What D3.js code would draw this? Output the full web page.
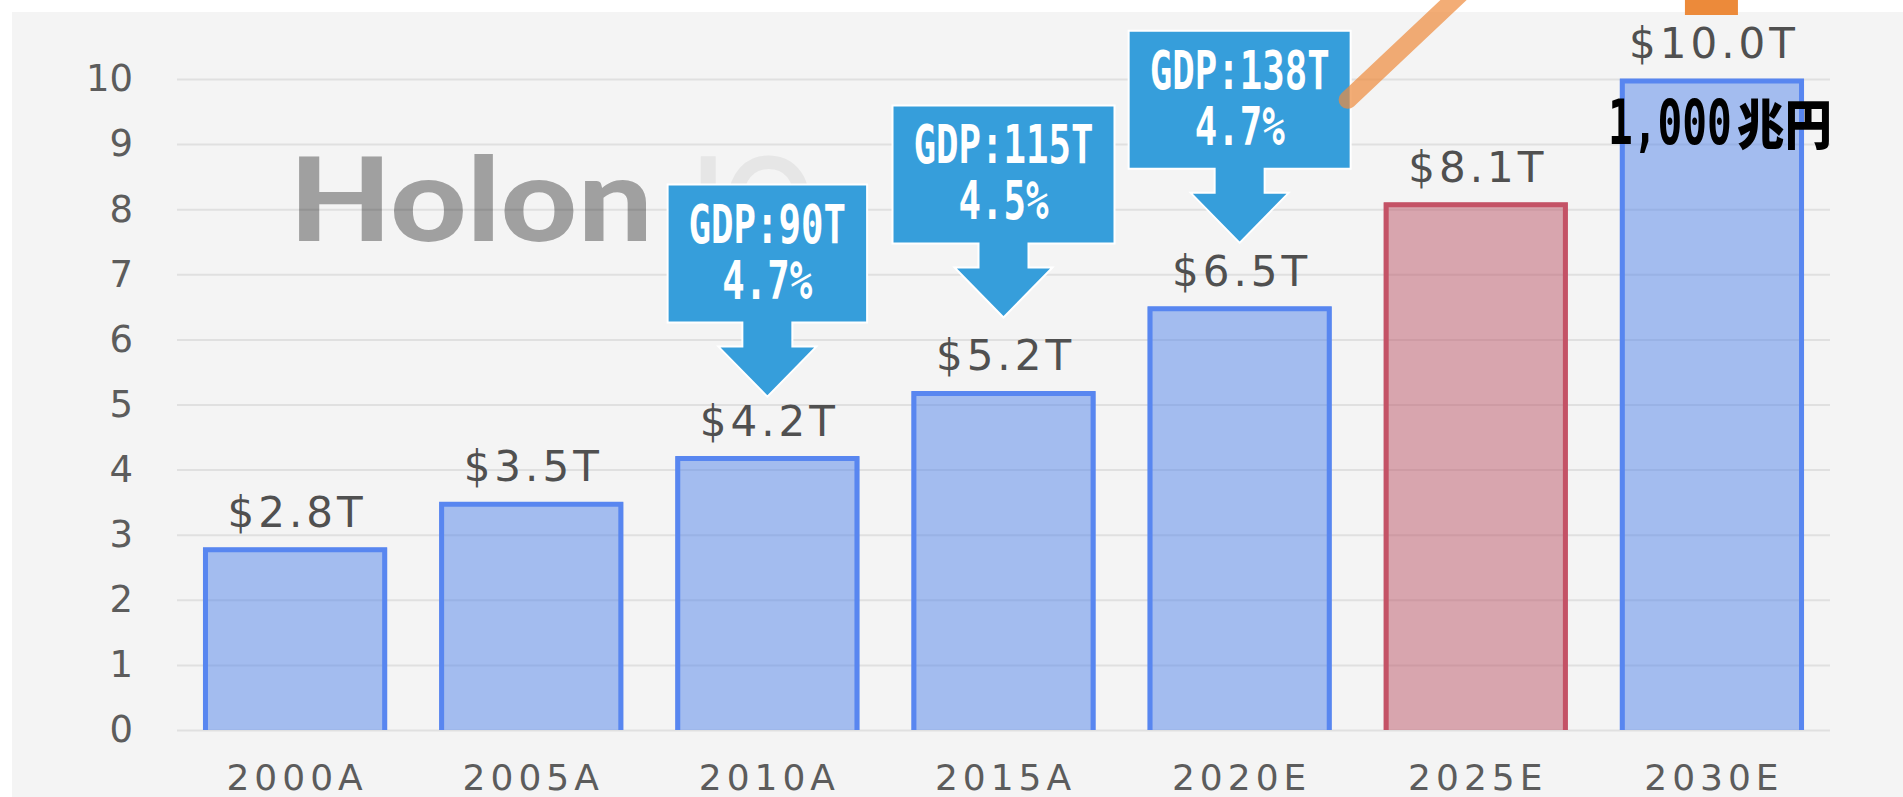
<!DOCTYPE html>
<html>
<head>
<meta charset="utf-8">
<script src="https://cdn.jsdelivr.net/npm/d3@7"></script>
<style>
  body { margin: 0; background: #ffffff; }
  svg { display: block; }
</style>
</head>
<body>
<div id="chart"></div>
<script>
const width = 1903;
const height = 797;

// chart data
const categories = ['2000A', '2005A', '2010A', '2015A', '2020E', '2025E', '2030E'];
const marketValues = [2.8, 3.5, 4.2, 5.2, 6.5, 8.1, 10.0];
const highlighted = ['2025E'];
const yTicks = [0, 1, 2, 3, 4, 5, 6, 7, 8, 9, 10];

// callouts
const calloutCats = ['2010A', '2015A', '2020E'];
const calloutGdp = ['GDP:90T', 'GDP:115T', 'GDP:138T'];
const calloutRate = ['4.7%', '4.5%', '4.7%'];
const yenNumber = '1,000';
const yenUnit = '兆円';

const labelFont = '"DejaVu Sans", "Open Sans", sans-serif';
const handFont = '"DejaVu Sans Mono", "Liberation Mono", monospace';

const svg = d3.select('#chart').append('svg')
    .attr('width', width)
    .attr('height', height);

// background panel
svg.append('rect')
    .attr('x', 12).attr('y', 12)
    .attr('width', width - 12).attr('height', height - 12)
    .attr('fill', '#f4f4f4');

// scales
const x = d3.scaleBand()
    .domain(categories)
    .range([177, 1830])
    .paddingInner(0.22)
    .paddingOuter(0.11);

const y = d3.scaleLinear()
    .domain([0, 10])
    .range([730, 79]);

// watermark
svg.append('text')
    .attr('x', 289).attr('y', 241)
    .attr('textLength', 364)
    .attr('lengthAdjust', 'spacingAndGlyphs')
    .style('font-family', 'Lato, "Open Sans", sans-serif')
    .style('font-weight', 900)
    .style('font-size', '117px')
    .attr('fill', '#a0a0a0')
    .text('Holon');

svg.append('text')
    .attr('x', 692).attr('y', 241)
    .attr('textLength', 121)
    .attr('lengthAdjust', 'spacingAndGlyphs')
    .style('font-family', 'Lato, "Open Sans", sans-serif')
    .style('font-weight', 700)
    .style('font-size', '117px')
    .attr('fill', '#e6e6e6')
    .text('IQ');

// gridlines
svg.append('g')
    .attr('transform', `translate(177,0)`)
    .call(d3.axisLeft(y).tickValues(yTicks).tickSize(-(1830 - 177)).tickFormat(''))
    .call(g => g.select('.domain').remove())
    .call(g => g.selectAll('line')
        .attr('stroke', '#000')
        .attr('stroke-opacity', 0.08)
        .attr('stroke-width', 2));

// y axis labels
svg.append('g')
    .attr('transform', `translate(177,0)`)
    .call(d3.axisLeft(y).tickValues(yTicks).tickSize(0).tickPadding(44).tickFormat(d3.format('d')))
    .call(g => g.select('.domain').remove())
    .call(g => g.selectAll('text')
        .style('font-family', labelFont)
        .style('font-size', '37px')
        .attr('fill', '#5c5c5c'));

// x axis labels
svg.append('g')
    .attr('transform', `translate(0,${y(0)})`)
    .call(d3.axisBottom(x).tickSize(0).tickPadding(34))
    .call(g => g.select('.domain').remove())
    .call(g => g.selectAll('text')
        .attr('dx', '2px')
        .style('font-family', labelFont)
        .style('font-size', '36px')
        .style('letter-spacing', '5px')
        .attr('fill', '#5c5c5c'));

const data = categories.map((c, i) => ({ cat: c, value: marketValues[i] }));
const isRed = d => highlighted.includes(d.cat);

// bars
const bars = svg.append('g');
bars.selectAll('rect')
    .data(data)
    .enter()
    .append('rect')
    .attr('x', d => x(d.cat))
    .attr('y', d => y(d.value))
    .attr('width', x.bandwidth())
    .attr('height', d => y(0) - y(d.value))
    .attr('fill', d => isRed(d) ? 'rgb(188,86,104)' : 'rgb(82,132,234)')
    .attr('fill-opacity', 0.5);

bars.selectAll('path')
    .data(data)
    .enter()
    .append('path')
    .attr('d', d => {
        const x0 = x(d.cat) + 2.5, x1 = x(d.cat) + x.bandwidth() - 2.5;
        const y0 = y(d.value) + 2, y1 = y(0);
        return `M${x0},${y1}L${x0},${y0}L${x1},${y0}L${x1},${y1}`;
    })
    .attr('fill', 'none')
    .attr('stroke', d => isRed(d) ? '#c45266' : '#5886f0')
    .attr('stroke-width', 5);

// value labels
svg.append('g').selectAll('text')
    .data(data)
    .enter()
    .append('text')
    .attr('x', d => x(d.cat) + x.bandwidth() / 2 + 2)
    .attr('y', d => y(d.value) - 21)
    .attr('text-anchor', 'middle')
    .style('font-family', labelFont)
    .style('font-size', '42px')
    .style('letter-spacing', '4px')
    .attr('fill', '#505050')
    .text(d => `$${d.value.toFixed(1)}T`);

// callout arrows
const calloutLift = [60, 74, 64];
const boxH = 138, shaftH = 24, headH = 50, shaftHalf = 25, headHalf = 49;
const callouts = calloutCats.map((c, i) => {
    const value = marketValues[categories.indexOf(c)];
    const cx = x(c) + x.bandwidth() / 2;
    const tip = y(value) - calloutLift[i];
    const top = tip - boxH - shaftH - headH;
    const w = Math.max(calloutGdp[i].length, calloutRate[i].length) * 22.5 + 42;
    return { cx, top, w, gdp: calloutGdp[i], rate: calloutRate[i] };
});

const calloutG = svg.append('g');
calloutG.selectAll('path')
    .data(callouts)
    .enter()
    .append('path')
    .attr('d', d => {
        const l = d.cx - d.w / 2, r = d.cx + d.w / 2;
        const b = d.top + boxH, s = b + shaftH, t = s + headH;
        return `M${l},${d.top}L${r},${d.top}L${r},${b}L${d.cx + shaftHalf},${b}` +
            `L${d.cx + shaftHalf},${s}L${d.cx + headHalf},${s}L${d.cx},${t}` +
            `L${d.cx - headHalf},${s}L${d.cx - shaftHalf},${s}L${d.cx - shaftHalf},${b}L${l},${b}Z`;
    })
    .attr('fill', '#369edb')
    .attr('stroke', '#ffffff')
    .attr('stroke-width', 2);

calloutG.selectAll('text.gdp')
    .data(callouts)
    .enter()
    .append('text')
    .attr('class', 'gdp')
    .attr('x', d => d.cx)
    .attr('y', d => d.top + 58)
    .attr('text-anchor', 'middle')
    .attr('textLength', d => d.gdp.length * 22.5)
    .attr('lengthAdjust', 'spacingAndGlyphs')
    .style('font-family', handFont)
    .style('font-weight', 'bold')
    .style('font-size', '53px')
    .attr('fill', '#ffffff')
    .text(d => d.gdp);

calloutG.selectAll('text.rate')
    .data(callouts)
    .enter()
    .append('text')
    .attr('class', 'rate')
    .attr('x', d => d.cx)
    .attr('y', d => d.top + 114)
    .attr('text-anchor', 'middle')
    .attr('textLength', d => d.rate.length * 22.5)
    .attr('lengthAdjust', 'spacingAndGlyphs')
    .style('font-family', handFont)
    .style('font-weight', 'bold')
    .style('font-size', '53px')
    .attr('fill', '#ffffff')
    .text(d => d.rate);

// 1,000兆円 inside the last bar
const lastCat = categories[categories.length - 1];
const lastCx = x(lastCat) + x.bandwidth() / 2;
const yenBase = y(marketValues[marketValues.length - 1]) + 65;

svg.append('text')
    .attr('x', lastCx - 104).attr('y', yenBase)
    .attr('textLength', 124)
    .attr('lengthAdjust', 'spacingAndGlyphs')
    .style('font-family', handFont)
    .style('font-weight', 'bold')
    .style('font-size', '62px')
    .attr('fill', '#000000')
    .text(yenNumber);

svg.append('text')
    .attr('x', lastCx + 25).attr('y', yenBase + 1)
    .attr('textLength', 95)
    .attr('lengthAdjust', 'spacingAndGlyphs')
    .style('font-family', '"Noto Sans CJK JP", sans-serif')
    .style('font-weight', 900)
    .style('font-size', '54px')
    .attr('fill', '#000000')
    .text(yenUnit);

// orange pointer line leaving the last callout
const last = callouts[callouts.length - 1];
const lx = last.cx + last.w / 2 - 3, ly = last.top + 69;
svg.append('line')
    .attr('x1', lx).attr('y1', ly)
    .attr('x2', lx + 140).attr('y2', ly - 132)
    .attr('stroke', 'rgb(238,140,62)')
    .attr('stroke-opacity', 0.71)
    .attr('stroke-width', 18)
    .attr('stroke-linecap', 'round');

// orange marker at top edge
svg.append('rect')
    .attr('x', lastCx - 27).attr('y', 0)
    .attr('width', 53).attr('height', 15)
    .attr('fill', '#ec8a3a');
</script>
</body>
</html>
